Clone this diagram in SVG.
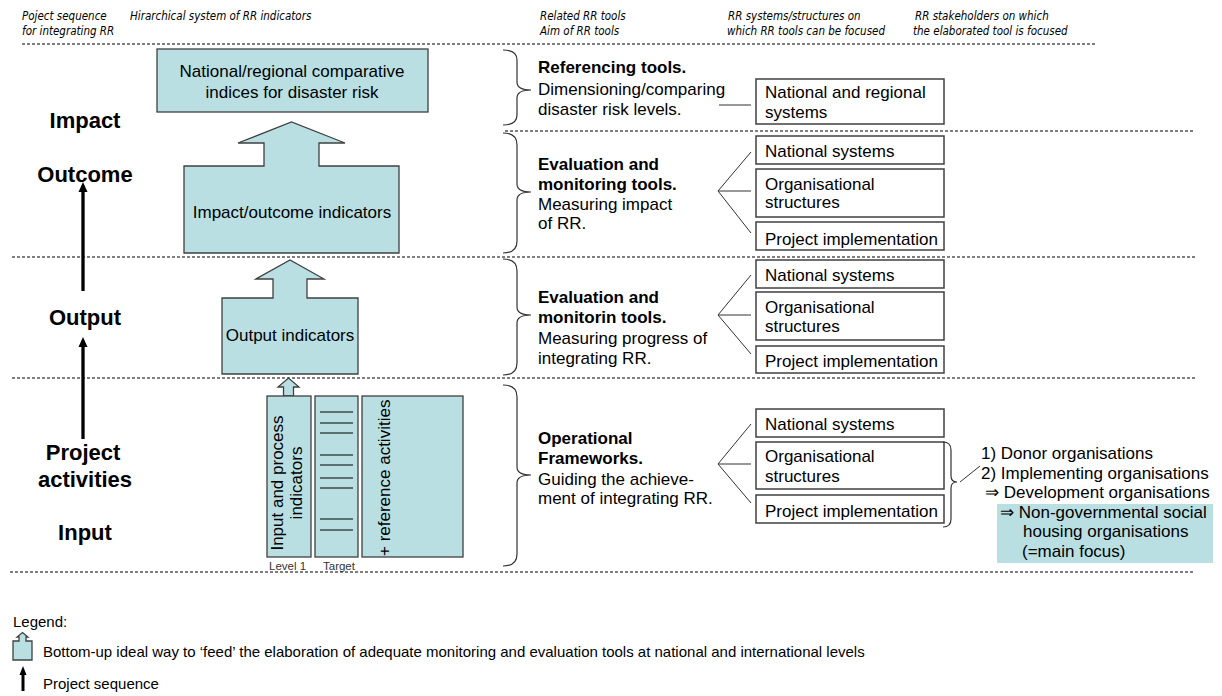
<svg xmlns="http://www.w3.org/2000/svg" width="1222" height="696" viewBox="0 0 1222 696">
<style>
.hdr{font-family:"DejaVu Sans Condensed","DejaVu Sans",sans-serif;font-stretch:condensed;font-style:italic;font-size:11.5px;fill:#000}
.t{font-family:"Liberation Sans",Arial,sans-serif;font-size:17px;fill:#000}
.b{font-weight:bold}
.lab{font-family:"Liberation Sans",Arial,sans-serif;font-size:22px;font-weight:bold;fill:#000}
.sm{font-family:"Liberation Sans",Arial,sans-serif;font-size:11.5px;fill:#333}
.lg{font-family:"Liberation Sans",Arial,sans-serif;font-size:15px;fill:#000}
.dash{stroke:#000;stroke-width:1.2;stroke-dasharray:3 2;fill:none}
.teal{fill:#B9DFE2;stroke:#404040;stroke-width:1.3}
.box{fill:#fff;stroke:#404040;stroke-width:1.5}
.ln{stroke:#333;stroke-width:1;fill:none}
.br{stroke:#333;stroke-width:1.2;fill:none}
.mid{text-anchor:middle}
</style>
<rect width="1222" height="696" fill="#fff"/>

<g id="header">
<text class="hdr" x="22" y="20">Poject sequence</text>
<text class="hdr" x="22" y="35">for integrating RR</text>
<text class="hdr" x="130" y="20">Hirarchical system of RR indicators</text>
<text class="hdr" x="540" y="20">Related RR tools</text>
<text class="hdr" x="540" y="35">Aim of RR tools</text>
<text class="hdr" x="728" y="20">RR systems/structures on</text>
<text class="hdr" x="727" y="35">which RR tools can be focused</text>
<text class="hdr" x="915" y="20">RR stakeholders on which</text>
<text class="hdr" x="913" y="35">the elaborated tool is focused</text>
</g>

<g id="separators">
<line class="dash" x1="22" y1="44" x2="1095" y2="44"/>
<line class="dash" x1="505" y1="131" x2="1195" y2="131"/>
<line class="dash" x1="12" y1="257" x2="1195" y2="257"/>
<line class="dash" x1="12" y1="378" x2="1195" y2="378"/>
<line class="dash" x1="10" y1="572" x2="1195" y2="572"/>
</g>

<g id="levels">
<text class="lab mid" x="85" y="128">Impact</text>
<text class="lab mid" x="85" y="182">Outcome</text>
<text class="lab mid" x="85" y="325">Output</text>
<text class="lab mid" x="83" y="460">Project</text>
<text class="lab mid" x="85" y="487">activities</text>
<text class="lab mid" x="85" y="540">Input</text>
</g>

<g id="connectors">
<line x1="83" y1="291" x2="83" y2="190" stroke="#000" stroke-width="3.3"/>
<polygon points="78.5,192 83,182 87.5,192" fill="#000"/>
<line x1="83" y1="439" x2="83" y2="345" stroke="#000" stroke-width="3.3"/>
<polygon points="78.5,347 83,337 87.5,347" fill="#000"/>
<line class="ln" x1="719" y1="105" x2="751" y2="105"/>
<polyline class="ln" points="751,152 718,191 751,233"/>
<line class="ln" x1="718" y1="191" x2="751" y2="191"/>
<polyline class="ln" points="751,275 718,315 751,354"/>
<line class="ln" x1="718" y1="315" x2="751" y2="315"/>
<polyline class="ln" points="751,424 718,464 751,503"/>
<line class="ln" x1="718" y1="464" x2="751" y2="464"/>
<line class="ln" x1="960" y1="482" x2="980" y2="466"/>
</g>

<g id="node-indices">
<rect class="teal" x="157" y="49" width="271" height="63"/>
<text class="t mid" x="292" y="77">National/regional comparative</text>
<text class="t mid" x="292" y="98">indices for disaster risk</text>
</g>

<g id="node-impact">
<path class="teal" d="M184,166 H264 V143 H238 L291.5,122 L345,143 H319 V166 H399 V253 H184 Z"/>
<text class="t mid" x="292" y="218">Impact/outcome indicators</text>
</g>

<g id="node-output">
<path class="teal" d="M222,298 H273 V279 H256 L290,260 L324,279 H307 V298 H358 V374 H222 Z"/>
<text class="t mid" x="290" y="341">Output indicators</text>
</g>

<g id="node-input">
<path class="teal" d="M283.5,396 V387 H278 L288.5,378 L299,387 H293.5 V396 Z"/>
<rect class="teal" x="267" y="396" width="44" height="161"/>
<text class="t mid" transform="translate(283,483) rotate(-90)">Input and process</text>
<text class="t mid" transform="translate(302,483) rotate(-90)">indicators</text>
<rect class="teal" x="315" y="396" width="43" height="161"/>
<g stroke="#000" stroke-width="1.2">
<line x1="320" y1="412" x2="353" y2="412"/>
<line x1="320" y1="423" x2="353" y2="423"/>
<line x1="320" y1="433" x2="353" y2="433"/>
<line x1="320" y1="455" x2="353" y2="455"/>
<line x1="320" y1="465" x2="353" y2="465"/>
<line x1="320" y1="478" x2="353" y2="478"/>
<line x1="320" y1="488" x2="353" y2="488"/>
<line x1="320" y1="519" x2="353" y2="519"/>
<line x1="320" y1="530" x2="353" y2="530"/>
</g>
<rect class="teal" x="362" y="396" width="101" height="161"/>
<text class="t" transform="translate(390,556) rotate(-90)">+ reference activities</text>
<text class="sm" x="269" y="570">Level 1</text>
<text class="sm" x="323" y="570">Target</text>
</g>

<g id="tool-referencing">
<path class="br" d="M503,50 Q517,50 517,60 V82 Q517,90 531,90 Q517,90 517,98 V115 Q517,125 503,125"/>
<text class="t b" x="538" y="73">Referencing tools.</text>
<text class="t" x="538" y="95">Dimensioning/comparing</text>
<text class="t" x="538" y="115">disaster risk levels.</text>
</g>
<g id="tool-eval-impact">
<path class="br" d="M503,133 Q517,133 517,145 V184 Q517,192 531,192 Q517,192 517,200 V241 Q517,253 503,253"/>
<text class="t b" x="538" y="170">Evaluation and</text>
<text class="t b" x="538" y="190">monitoring tools.</text>
<text class="t" x="538" y="210">Measuring impact</text>
<text class="t" x="538" y="229">of RR.</text>
</g>
<g id="tool-eval-progress">
<path class="br" d="M503,259 Q517,259 517,271 V307 Q517,315 531,315 Q517,315 517,323 V363 Q517,375 503,375"/>
<text class="t b" x="538" y="303">Evaluation and</text>
<text class="t b" x="538" y="323">monitorin tools.</text>
<text class="t" x="538" y="344">Measuring progress of</text>
<text class="t" x="538" y="364">integrating RR.</text>
</g>
<g id="tool-operational">
<path class="br" d="M503,385 Q517,385 517,397 V467 Q517,475 531,475 Q517,475 517,483 V554 Q517,566 503,566"/>
<text class="t b" x="538" y="444">Operational</text>
<text class="t b" x="538" y="464">Frameworks.</text>
<text class="t" x="538" y="485">Guiding the achieve-</text>
<text class="t" x="538" y="504">ment of integrating RR.</text>
</g>

<g id="sys-national-regional">
<rect class="box" x="756" y="79" width="188" height="45"/>
<text class="t" x="765" y="98">National and regional</text>
<text class="t" x="765" y="118">systems</text>
</g>
<g id="sys-2">
<rect class="box" x="756" y="136" width="188" height="28"/>
<text class="t" x="765" y="157">National systems</text>
<rect class="box" x="756" y="169" width="188" height="48"/>
<text class="t" x="765" y="190">Organisational</text>
<text class="t" x="765" y="208">structures</text>
<rect class="box" x="756" y="222" width="188" height="28"/>
<text class="t" x="765" y="245">Project implementation</text>
</g>
<g id="sys-3">
<rect class="box" x="756" y="260" width="188" height="28"/>
<text class="t" x="765" y="281">National systems</text>
<rect class="box" x="756" y="292" width="188" height="48"/>
<text class="t" x="765" y="313">Organisational</text>
<text class="t" x="765" y="332">structures</text>
<rect class="box" x="756" y="346" width="188" height="27"/>
<text class="t" x="765" y="367">Project implementation</text>
</g>
<g id="sys-4">
<rect class="box" x="756" y="409" width="188" height="28"/>
<text class="t" x="765" y="430">National systems</text>
<rect class="box" x="756" y="442" width="188" height="47"/>
<text class="t" x="765" y="462">Organisational</text>
<text class="t" x="765" y="482">structures</text>
<rect class="box" x="756" y="495" width="188" height="28"/>
<text class="t" x="765" y="517">Project implementation</text>
</g>

<g id="stakeholders">
<path class="br" d="M943,442 Q951,442 951,450 V476 Q951,482 957,482 Q951,482 951,488 V519 Q951,527 943,527"/>
<rect x="997" y="504" width="216" height="59" fill="#B9DFE2"/>
<text class="t" x="981" y="459">1) Donor organisations</text>
<text class="t" x="981" y="479">2) Implementing organisations</text>
<text class="t" x="985" y="498">⇒ Development organisations</text>
<text class="t" x="1000" y="518">⇒ Non-governmental social</text>
<text class="t" x="1023" y="537">housing organisations</text>
<text class="t" x="1022" y="557">(=main focus)</text>
</g>

<g id="legend">
<text class="lg" x="13" y="627">Legend:</text>
<path class="teal" d="M13,641 H19 V637 H17 L22.5,632.5 L28,637 H26 V641 H32 V660 H13 Z" stroke-width="1"/>
<text class="lg" x="43" y="657">Bottom-up ideal way to ‘feed’ the elaboration of adequate monitoring and evaluation tools at national and international levels</text>
<line x1="23" y1="691" x2="23" y2="673" stroke="#000" stroke-width="3"/>
<polygon points="19.5,675 23,666 26.5,675" fill="#000"/>
<text class="lg" x="43" y="689">Project sequence</text>
</g>
</svg>
